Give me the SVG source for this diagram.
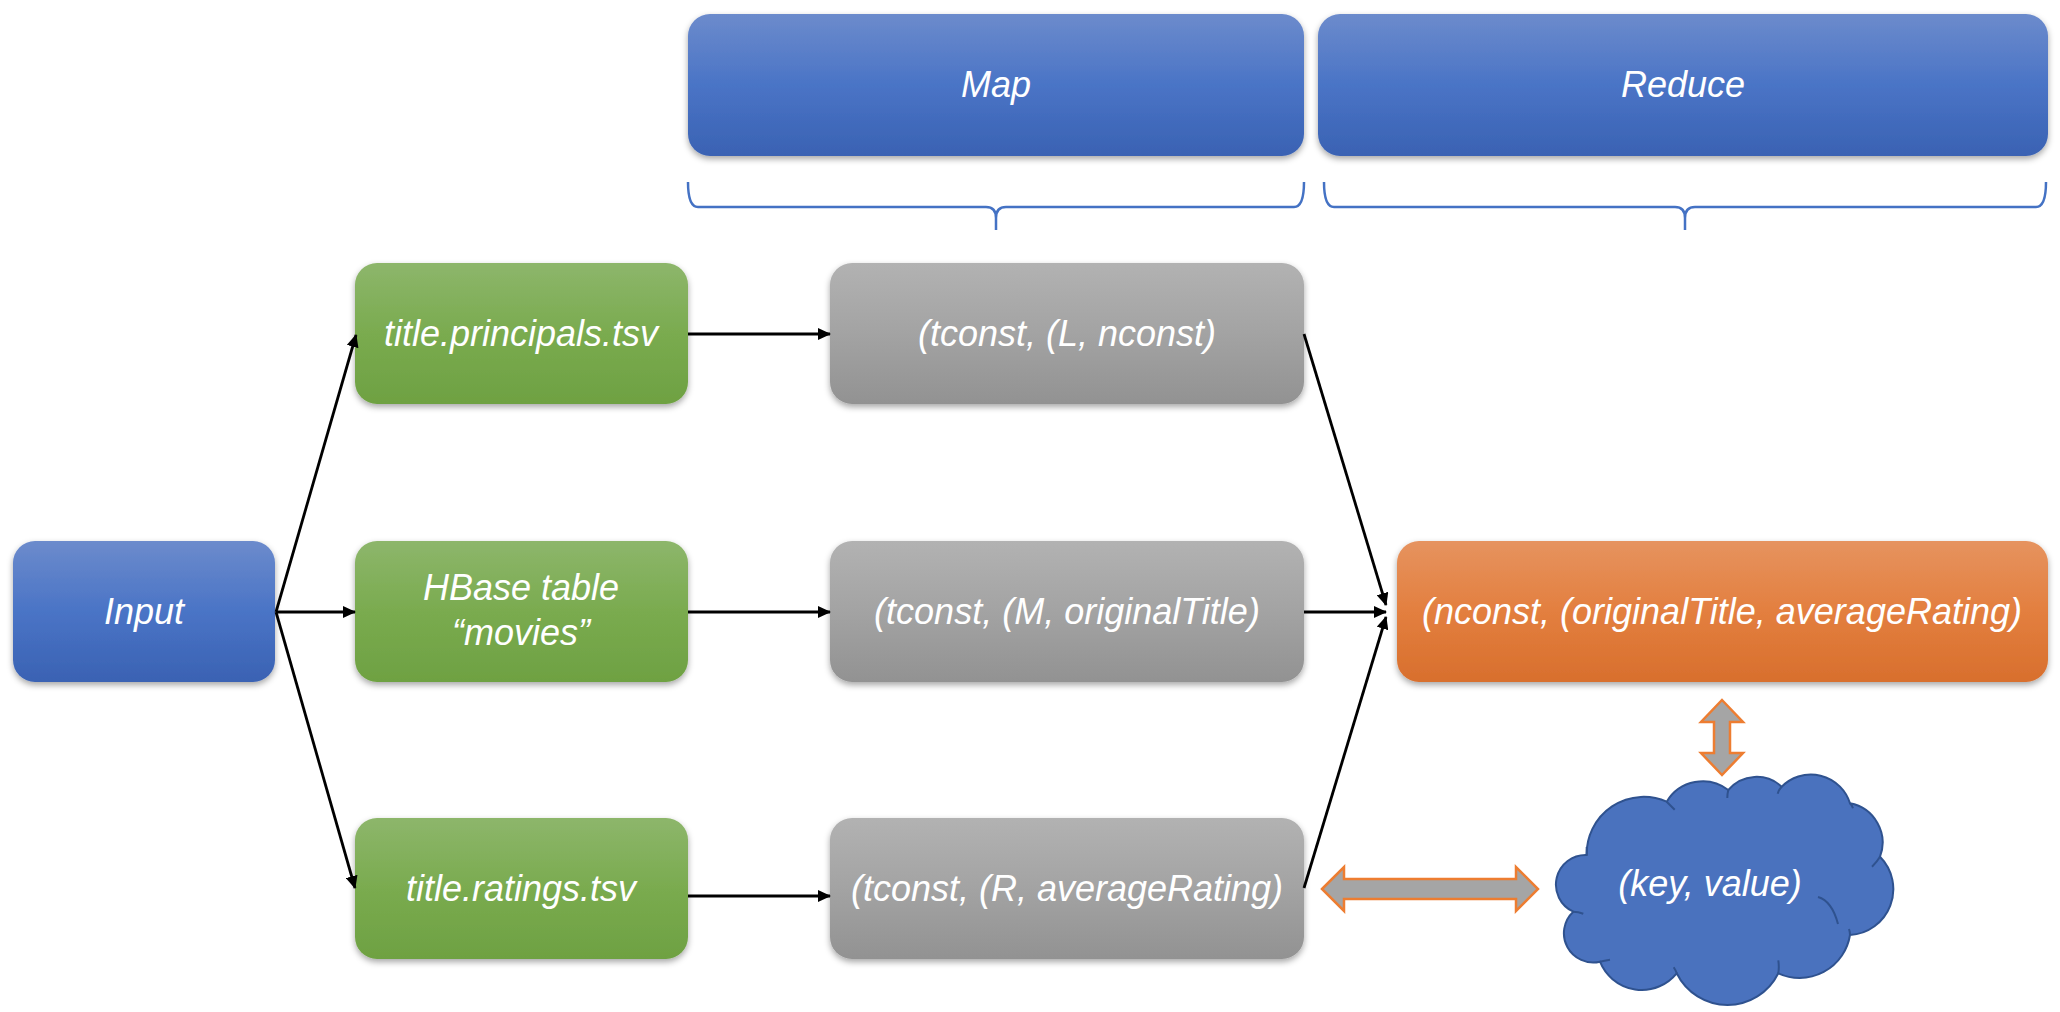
<svg xmlns="http://www.w3.org/2000/svg" width="2060" height="1012" viewBox="0 0 2060 1012">
<defs>
<linearGradient id="gBlue" x1="0" y1="0" x2="0" y2="1"><stop offset="0" stop-color="#6C8BCC"/><stop offset="0.5" stop-color="#4A74C6"/><stop offset="1" stop-color="#3A62B3"/></linearGradient>
<linearGradient id="gGreen" x1="0" y1="0" x2="0" y2="1"><stop offset="0" stop-color="#8DB66B"/><stop offset="0.5" stop-color="#7AAB4F"/><stop offset="1" stop-color="#6EA142"/></linearGradient>
<linearGradient id="gGray" x1="0" y1="0" x2="0" y2="1"><stop offset="0" stop-color="#B2B2B2"/><stop offset="0.5" stop-color="#A3A3A3"/><stop offset="1" stop-color="#929292"/></linearGradient>
<linearGradient id="gOrange" x1="0" y1="0" x2="0" y2="1"><stop offset="0" stop-color="#E6935F"/><stop offset="0.5" stop-color="#E37F3F"/><stop offset="1" stop-color="#D86F2D"/></linearGradient>
<filter id="shadow" x="-5%" y="-10%" width="110%" height="130%"><feDropShadow dx="0" dy="3" stdDeviation="3" flood-color="#000" flood-opacity="0.35"/></filter>
<marker id="arrow" viewBox="0 0 13 12" markerWidth="13" markerHeight="12" refX="12" refY="6" orient="auto" markerUnits="userSpaceOnUse"><path d="M0,0 L13,6 L0,12 Z" fill="#000"/></marker>
</defs>
<style>
.box{filter:url(#shadow)}
.lbl{font-family:"Liberation Sans",Arial,sans-serif;font-style:italic;font-size:36px;fill:#fff;text-anchor:middle}
.conn{stroke:#000;stroke-width:2.8;fill:none;marker-end:url(#arrow)}
.brace{stroke:#4472C4;stroke-width:2.5;fill:none}
.block{fill:#A5A5A5;stroke:#ED7D31;stroke-width:2.5;stroke-linejoin:miter}
.cloudline{fill:none;stroke:#2F528F;stroke-width:2}
</style>
<rect width="2060" height="1012" fill="#fff"/>

<g id="map">
<rect class="box" x="688" y="14" width="616" height="142" rx="22" fill="url(#gBlue)"/>
<text class="lbl" x="996" y="97">Map</text>
</g>
<g id="reduce">
<rect class="box" x="1318" y="14" width="730" height="142" rx="22" fill="url(#gBlue)"/>
<text class="lbl" x="1683" y="97">Reduce</text>
</g>
<g id="map-brace">
<path class="brace" d="M688,182 Q688,207 698,207 L986,207 Q996,207 996,218 L996,230 M996,218 Q996,207 1006,207 L1294,207 Q1304,207 1304,182"/>
</g>
<g id="reduce-brace">
<path class="brace" d="M1324,182 Q1324,207 1334,207 L1675,207 Q1685,207 1685,218 L1685,230 M1685,218 Q1685,207 1695,207 L2036,207 Q2046,207 2046,182"/>
</g>

<g id="input">
<rect class="box" x="13" y="541" width="262" height="141" rx="22" fill="url(#gBlue)"/>
<text class="lbl" x="144" y="624">Input</text>
</g>
<g id="principals">
<rect class="box" x="355" y="263" width="333" height="141" rx="22" fill="url(#gGreen)"/>
<text class="lbl" x="521" y="346">title.principals.tsv</text>
</g>
<g id="hbase">
<rect class="box" x="355" y="541" width="333" height="141" rx="22" fill="url(#gGreen)"/>
<text class="lbl" x="521" y="600">HBase table</text>
<text class="lbl" x="521" y="645">“movies”</text>
</g>
<g id="ratings">
<rect class="box" x="355" y="818" width="333" height="141" rx="22" fill="url(#gGreen)"/>
<text class="lbl" x="521" y="901">title.ratings.tsv</text>
</g>
<g id="mapL">
<rect class="box" x="830" y="263" width="474" height="141" rx="22" fill="url(#gGray)"/>
<text class="lbl" x="1067" y="346">(tconst, (L, nconst)</text>
</g>
<g id="mapM">
<rect class="box" x="830" y="541" width="474" height="141" rx="22" fill="url(#gGray)"/>
<text class="lbl" x="1067" y="624">(tconst, (M, originalTitle)</text>
</g>
<g id="mapR">
<rect class="box" x="830" y="818" width="474" height="141" rx="22" fill="url(#gGray)"/>
<text class="lbl" x="1067" y="901">(tconst, (R, averageRating)</text>
</g>
<g id="result">
<rect class="box" x="1397" y="541" width="651" height="141" rx="22" fill="url(#gOrange)"/>
<text class="lbl" x="1722" y="624">(nconst, (originalTitle, averageRating)</text>
</g>
<g id="store">
<path d="M1586.7,855 A57,57 0 0 1 1666.7,801.7 A42,42 0 0 1 1728.3,790 A37,37 0 0 1 1781.7,786.7 A41,41 0 0 1 1850,803.3 A40,40 0 0 1 1880,856.7 A46,46 0 0 1 1850,935 A51,51 0 0 1 1778.3,973.3 A56.6,56.6 0 0 1 1676.7,973.3 A45,45 0 0 1 1600,961.7 A29.3,29.3 0 0 1 1573.3,911.7 A29.7,29.7 0 0 1 1586.7,855 Z" fill="#4A72BE" stroke="#2F528F" stroke-width="2"/>
<path class="cloudline" d="M1586.7,855 q0,-3 0,-8 M1666.7,801.7 q3,3 8,8 M1728.3,790 q-1,4 -1,8 M1781.7,786.7 q-3,3 -4,7 M1850,803.3 q2,2 3,5 M1880,856.7 q-3,5 -8,10 M1850,935 q0,-3 -1,-6 M1818,897 q14,4 20,27 M1778.3,973.3 q1,-6 0,-13 M1676.7,973.3 q-1,-3 -3,-6 M1600,961.7 q4,-1 10,-2 M1573.3,911.7 q5,0 10,2"/>
<text class="lbl" x="1710" y="896">(key, value)</text>
</g>

<g id="connectors">
<line class="conn" x1="276" y1="612" x2="356" y2="335"/>
<line class="conn" x1="276" y1="612" x2="355" y2="612"/>
<line class="conn" x1="276" y1="612" x2="355" y2="888"/>
<line class="conn" x1="688" y1="334" x2="830" y2="334"/>
<line class="conn" x1="688" y1="612" x2="830" y2="612"/>
<line class="conn" x1="688" y1="896" x2="830" y2="896"/>
<line class="conn" x1="1304" y1="334" x2="1386" y2="605"/>
<line class="conn" x1="1304" y1="612" x2="1386" y2="612"/>
<line class="conn" x1="1304" y1="888" x2="1386" y2="617"/>
<path class="block" d="M1322,889 L1344,867 L1344,879 L1516,879 L1516,867 L1538,889 L1516,911 L1516,899 L1344,899 L1344,911 Z"/>
<path class="block" d="M1722,700 L1743,722 L1730,722 L1730,753 L1743,753 L1722,775 L1701,753 L1714,753 L1714,722 L1701,722 Z"/>
</g>
</svg>
